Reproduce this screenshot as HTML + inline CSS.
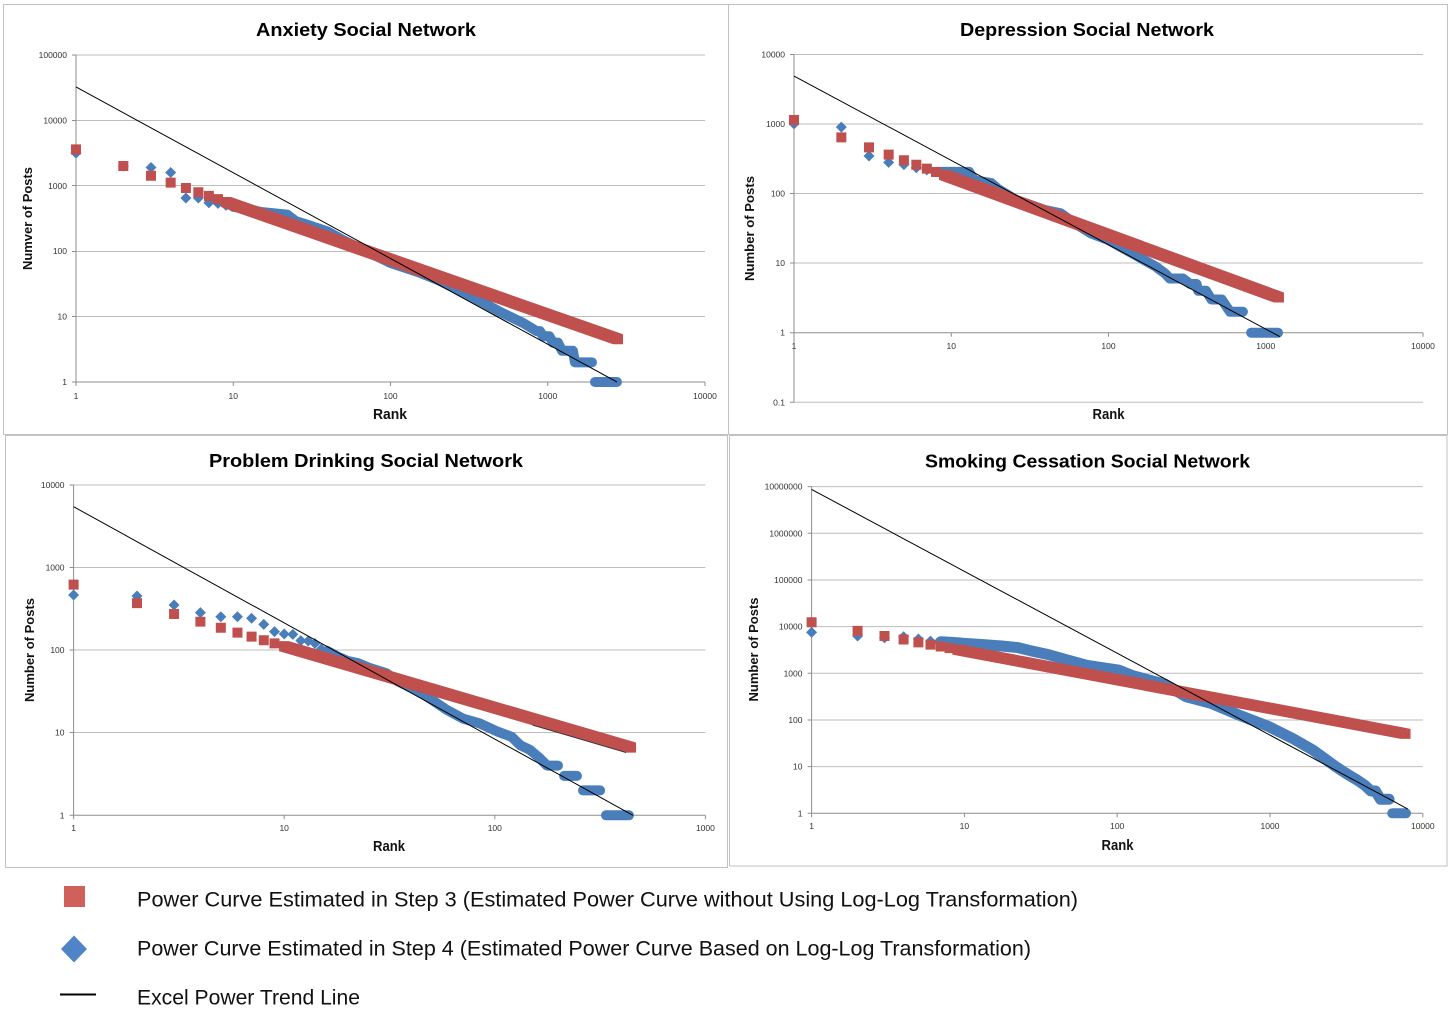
<!DOCTYPE html>
<html><head><meta charset="utf-8"><style>
html,body{margin:0;padding:0;background:#fff;}
svg{display:block;}
text{font-family:"Liberation Sans",sans-serif;}
.ttl{font-size:18px;font-weight:bold;fill:#000;}
.ax{font-size:15px;font-weight:bold;fill:#111;}
.yt{font-size:13px;font-weight:bold;fill:#111;}
.tk{font-size:8.5px;fill:#333;}
.lg{font-size:21px;fill:#111;}
.grid{stroke:#bdbdbd;stroke-width:1;fill:none;}
.axis{stroke:#8e8e8e;stroke-width:1;fill:none;}
.brd{stroke:#c2c2c2;stroke-width:1;fill:none;}
.bl{fill:none;stroke:#4a7ebb;stroke-width:10;stroke-linejoin:round;stroke-linecap:round;vector-effect:non-scaling-stroke;}
.bl4{fill:none;stroke:#4a7ebb;stroke-width:11;stroke-linejoin:round;stroke-linecap:round;vector-effect:non-scaling-stroke;}
.tr{fill:none;stroke:#000;stroke-width:1;vector-effect:non-scaling-stroke;}
.dk{fill:none;stroke:#333;stroke-width:1;vector-effect:non-scaling-stroke;}
.rd{fill:#c0504d;}
.bd{fill:#4a7ebb;}
</style></head><body>
<svg width="1451" height="1025" viewBox="0 0 1451 1025" xmlns="http://www.w3.org/2000/svg">
<rect x="0" y="0" width="1451" height="1025" fill="#fff"/>

<!-- panel borders -->
<rect class="brd" x="3.5" y="4.5" width="725" height="430"/>
<rect class="brd" x="728.5" y="4.5" width="719" height="430"/>
<rect class="brd" x="5.5" y="435.5" width="722" height="432"/>
<rect class="brd" x="729.5" y="435.5" width="717.5" height="430.5"/>

<!-- ================= PANEL 1: Anxiety ================= -->
<text class="ttl" x="366" y="36" text-anchor="middle" textLength="220" lengthAdjust="spacingAndGlyphs">Anxiety Social Network</text>
<g>
<line class="grid" x1="76" y1="55" x2="705" y2="55"/>
<line class="grid" x1="76" y1="120.5" x2="705" y2="120.5"/>
<line class="grid" x1="76" y1="185.5" x2="705" y2="185.5"/>
<line class="grid" x1="76" y1="251.5" x2="705" y2="251.5"/>
<line class="grid" x1="76" y1="316.5" x2="705" y2="316.5"/>
<line class="axis" x1="72" y1="382" x2="705" y2="382"/>
<line class="axis" x1="76" y1="55" x2="76" y2="386"/>
<path class="axis" d="M72,55h4M72,120.5h4M72,185.5h4M72,251.5h4M72,316.5h4M233.25,382v4M390.5,382v4M547.75,382v4M705,382v4"/>
</g>
<g class="tk" text-anchor="end">
<text x="67" y="58">100000</text><text x="67" y="123.4">10000</text><text x="67" y="188.8">1000</text><text x="67" y="254.2">100</text><text x="67" y="319.6">10</text><text x="67" y="385">1</text>
</g>
<g class="tk" text-anchor="middle">
<text x="76" y="399">1</text><text x="233.25" y="399">10</text><text x="390.5" y="399">100</text><text x="547.75" y="399">1000</text><text x="705" y="399">10000</text>
</g>
<text class="ax" x="390" y="419" text-anchor="middle" textLength="34" lengthAdjust="spacingAndGlyphs">Rank</text>
<text class="yt" transform="translate(32,218.5) rotate(-90)" text-anchor="middle" textLength="103" lengthAdjust="spacingAndGlyphs">Numver of Posts</text>

<g transform="translate(76,382) scale(157.25,-65.4)">
<path class="bd" d="M-.035,3.5l.035,.084l.035,-.084l-.035,-.084zM.266,3.3l.035,.084l.035,-.084l-.035,-.084zM.442,3.279l.035,.084l.035,-.084l-.035,-.084zM.567,3.204l.035,.084l.035,-.084l-.035,-.084zM.664,2.813l.035,.084l.035,-.084l-.035,-.084zM.743,2.813l.035,.084l.035,-.084l-.035,-.084zM.81,2.74l.035,.084l.035,-.084l-.035,-.084zM.868,2.732l.035,.084l.035,-.084l-.035,-.084zM.919,2.7l.035,.084l.035,-.084l-.035,-.084zM.965,2.68l.035,.084l.035,-.084l-.035,-.084z"/>
<polyline class="bl" points="1,2.68 1.041,2.66 1.079,2.645 1.114,2.63 1.176,2.6 1.301,2.57 1.342,2.56 1.398,2.46 1.477,2.4 1.602,2.3 1.699,2.17 1.845,2 2,1.82 2.176,1.68 2.301,1.56 2.477,1.36 2.699,1.07 2.845,.9 2.929,.778 2.95,.778 2.97,.699 3.01,.699 3.033,.602 3.065,.602 3.091,.477 3.16,.477 3.173,.301 3.281,.301"/>
<polyline class="bl" points="3.3,0 3.44,0"/>
<path class="rd" d="M-.0318,3.4795h.0636v.153h-.0636zM.2692,3.2265h.0636v.153h-.0636zM.4452,3.0775h.0636v.153h-.0636zM.5702,2.9725h.0636v.153h-.0636zM.6672,2.8905h.0636v.153h-.0636zM.7462,2.8245h.0636v.153h-.0636zM.8132,2.7685h.0636v.153h-.0636zM.8712,2.7195h.0636v.153h-.0636zM.9222,2.6765h.0636v.153h-.0636zM.9682,2.6375h.0636v.153h-.0636zM1.0092,2.6035h.0636v.153h-.0636zM1.0472,2.5715h.0636v.153h-.0636zM1.0822,2.5415h.0636v.153h-.0636zM1.1142,2.5145h.0636v.153h-.0636z"/>
<polygon class="rd" points=".9222,2.8295 .9858,2.8295 3.4788,.7305 3.4788,.5775 3.4152,.5775 .9222,2.6765"/>
<polyline class="tr" points="0,4.511 3.44,0"/>
</g>

<!-- ================= PANEL 2: Depression ================= -->
<text class="ttl" x="1087" y="36" text-anchor="middle" textLength="254" lengthAdjust="spacingAndGlyphs">Depression Social Network</text>
<g>
<line class="grid" x1="794" y1="54.5" x2="1423" y2="54.5"/>
<line class="grid" x1="794" y1="124" x2="1423" y2="124"/>
<line class="grid" x1="794" y1="193.5" x2="1423" y2="193.5"/>
<line class="grid" x1="794" y1="263" x2="1423" y2="263"/>
<line class="axis" x1="790" y1="332.7" x2="1423" y2="332.7"/>
<line class="grid" x1="794" y1="402.3" x2="1423" y2="402.3"/>
<line class="axis" x1="794" y1="54.5" x2="794" y2="402.3"/>
<path class="axis" d="M790,54.5h4M790,124h4M790,193.5h4M790,263h4M790,402.3h4M951.25,332.7v4M1108.5,332.7v4M1265.75,332.7v4M1423,332.7v4"/>
</g>
<g class="tk" text-anchor="end">
<text x="785" y="57.3">10000</text><text x="785" y="126.9">1000</text><text x="785" y="196.5">100</text><text x="785" y="266.1">10</text><text x="785" y="335.7">1</text><text x="785" y="405.3">0.1</text>
</g>
<g class="tk" text-anchor="middle">
<text x="794" y="349">1</text><text x="951.25" y="349">10</text><text x="1108.5" y="349">100</text><text x="1265.75" y="349">1000</text><text x="1423" y="349">10000</text>
</g>
<text class="ax" x="1108.5" y="419" text-anchor="middle" textLength="32" lengthAdjust="spacingAndGlyphs">Rank</text>
<text class="yt" transform="translate(754,228.5) rotate(-90)" text-anchor="middle" textLength="105" lengthAdjust="spacingAndGlyphs">Number of Posts</text>

<g transform="translate(794,332.7) scale(157.25,-69.6)">
<path class="bd" d="M-.035,3l.035,.079l.035,-.079l-.035,-.079zM.266,2.954l.035,.079l.035,-.079l-.035,-.079zM.442,2.539l.035,.079l.035,-.079l-.035,-.079zM.567,2.447l.035,.079l.035,-.079l-.035,-.079zM.664,2.415l.035,.079l.035,-.079l-.035,-.079zM.743,2.37l.035,.079l.035,-.079l-.035,-.079zM.81,2.34l.035,.079l.035,-.079l-.035,-.079z"/>
<polyline class="bl" points=".903,2.31 1.114,2.31 1.146,2.19 1.255,2.15 1.3,2.06 1.413,1.907 1.6,1.76 1.695,1.716 1.78,1.58 1.887,1.428 2,1.33 2.15,1.141 2.3,.95 2.36,.85 2.39,.778 2.474,.778 2.52,.699 2.56,.699 2.57,.602 2.62,.602 2.655,.477 2.72,.477 2.773,.301 2.855,.301"/>
<polyline class="bl" points="2.907,0 3.078,0"/>
<path class="rd" d="M-.0318,2.9842h.0636v.1437h-.0636zM.2692,2.7352h.0636v.1437h-.0636zM.4452,2.5902h.0636v.1437h-.0636zM.5702,2.4862h.0636v.1437h-.0636zM.6672,2.4062h.0636v.1437h-.0636zM.7462,2.3412h.0636v.1437h-.0636zM.8132,2.2852h.0636v.1437h-.0636zM.8712,2.2372h.0636v.1437h-.0636zM.9222,2.1952h.0636v.1437h-.0636zM.9682,2.1572h.0636v.1437h-.0636zM1.0092,2.1232h.0636v.1437h-.0636zM1.0472,2.0922h.0636v.1437h-.0636zM1.0822,2.0632h.0636v.1437h-.0636zM1.1142,2.0362h.0636v.1437h-.0636z"/>
<polygon class="rd" points=".9222,2.3388 .9858,2.3388 3.1158,.5768 3.1158,.4332 3.0522,.4332 .9222,2.1952"/>
<polyline class="tr" points="0,3.688 3.09,-.057"/>
</g>

<!-- ================= PANEL 3: Problem Drinking ================= -->
<text class="ttl" x="366" y="467" text-anchor="middle" textLength="314" lengthAdjust="spacingAndGlyphs">Problem Drinking Social Network</text>
<g>
<line class="grid" x1="73.6" y1="485" x2="705.4" y2="485"/>
<line class="grid" x1="73.6" y1="567.5" x2="705.4" y2="567.5"/>
<line class="grid" x1="73.6" y1="650" x2="705.4" y2="650"/>
<line class="grid" x1="73.6" y1="732.5" x2="705.4" y2="732.5"/>
<line class="axis" x1="69.6" y1="815.3" x2="705.4" y2="815.3"/>
<line class="axis" x1="73.6" y1="485" x2="73.6" y2="819.3"/>
<path class="axis" d="M69.6,485h4M69.6,567.5h4M69.6,650h4M69.6,732.5h4M284.2,815.3v4M494.8,815.3v4M705.4,815.3v4"/>
</g>
<g class="tk" text-anchor="end">
<text x="64.5" y="487.9">10000</text><text x="64.5" y="570.5">1000</text><text x="64.5" y="653.1">100</text><text x="64.5" y="735.7">10</text><text x="64.5" y="818.3">1</text>
</g>
<g class="tk" text-anchor="middle">
<text x="73.6" y="831">1</text><text x="284.2" y="831">10</text><text x="494.8" y="831">100</text><text x="705.4" y="831">1000</text>
</g>
<text class="ax" x="389" y="851" text-anchor="middle" textLength="32" lengthAdjust="spacingAndGlyphs">Rank</text>
<text class="yt" transform="translate(34,650) rotate(-90)" text-anchor="middle" textLength="104" lengthAdjust="spacingAndGlyphs">Number of Posts</text>

<g transform="translate(73.6,815.3) scale(210.6,-82.6)">
<path class="bd" d="M-.0261,2.667l.0261,.0666l.0261,-.0666l-.0261,-.0666zM.2749,2.655l.0261,.0666l.0261,-.0666l-.0261,-.0666zM.4509,2.546l.0261,.0666l.0261,-.0666l-.0261,-.0666zM.5759,2.453l.0261,.0666l.0261,-.0666l-.0261,-.0666zM.6729,2.404l.0261,.0666l.0261,-.0666l-.0261,-.0666zM.7519,2.404l.0261,.0666l.0261,-.0666l-.0261,-.0666zM.8189,2.385l.0261,.0666l.0261,-.0666l-.0261,-.0666zM.8769,2.312l.0261,.0666l.0261,-.0666l-.0261,-.0666zM.9279,2.223l.0261,.0666l.0261,-.0666l-.0261,-.0666zM.9739,2.195l.0261,.0666l.0261,-.0666l-.0261,-.0666zM1.0149,2.19l.0261,.0666l.0261,-.0666l-.0261,-.0666zM1.0529,2.114l.0261,.0666l.0261,-.0666l-.0261,-.0666zM1.0879,2.11l.0261,.0666l.0261,-.0666l-.0261,-.0666zM1.1199,2.08l.0261,.0666l.0261,-.0666l-.0261,-.0666zM1.1499,2.013l.0261,.0666l.0261,-.0666l-.0261,-.0666zM1.1779,1.99l.0261,.0666l.0261,-.0666l-.0261,-.0666z"/>
<polyline class="bl" points="1.204,1.99 1.255,1.92 1.3,1.87 1.353,1.84 1.4,1.79 1.485,1.72 1.54,1.62 1.64,1.5 1.7,1.4 1.773,1.275 1.85,1.17 1.927,1.114 2.013,1.013 2.08,.95 2.12,.85 2.167,.792 2.21,.699 2.248,.602 2.3,.602"/>
<polyline class="bl" points="2.329,.477 2.39,.477"/>
<polyline class="bl" points="2.419,.301 2.5,.301"/>
<polyline class="bl" points="2.528,0 2.637,0"/>
<path class="rd" d="M-.0237,2.7315h.0475v.121h-.0475zM.2773,2.5075h.0475v.121h-.0475zM.4533,2.3765h.0475v.121h-.0475zM.5783,2.2835h.0475v.121h-.0475zM.6753,2.2105h.0475v.121h-.0475zM.7543,2.1515h.0475v.121h-.0475zM.8213,2.1025h.0475v.121h-.0475zM.8793,2.0585h.0475v.121h-.0475zM.9303,2.0205h.0475v.121h-.0475zM.9763,1.9865h.0475v.121h-.0475zM1.0173,1.9555h.0475v.121h-.0475zM1.0553,1.9275h.0475v.121h-.0475zM1.0903,1.9015h.0475v.121h-.0475zM1.1223,1.8775h.0475v.121h-.0475zM1.1523,1.8555h.0475v.121h-.0475zM1.1803,1.8345h.0475v.121h-.0475z"/>
<polygon class="rd" points=".9763,2.1075 1.0237,2.1075 2.6707,.8805 2.6707,.7595 2.6233,.7595 .9763,1.9865"/>
<polyline class="dk" points="2.179,1.0925 2.6233,.7595"/>
<polyline class="tr" points="0,3.736 2.656,0"/>
</g>

<!-- ================= PANEL 4: Smoking Cessation ================= -->
<text class="ttl" x="1087.5" y="467.5" text-anchor="middle" textLength="325" lengthAdjust="spacingAndGlyphs">Smoking Cessation Social Network</text>
<g>
<line class="grid" x1="811.6" y1="486.6" x2="1422.8" y2="486.6"/>
<line class="grid" x1="811.6" y1="533.3" x2="1422.8" y2="533.3"/>
<line class="grid" x1="811.6" y1="580" x2="1422.8" y2="580"/>
<line class="grid" x1="811.6" y1="626.6" x2="1422.8" y2="626.6"/>
<line class="grid" x1="811.6" y1="673.3" x2="1422.8" y2="673.3"/>
<line class="grid" x1="811.6" y1="720" x2="1422.8" y2="720"/>
<line class="grid" x1="811.6" y1="766.6" x2="1422.8" y2="766.6"/>
<line class="axis" x1="807.6" y1="813.3" x2="1422.8" y2="813.3"/>
<line class="axis" x1="811.6" y1="486.6" x2="811.6" y2="817.3"/>
<path class="axis" d="M807.6,486.6h4M807.6,533.3h4M807.6,580h4M807.6,626.6h4M807.6,673.3h4M807.6,720h4M807.6,766.6h4M964.4,813.3v4M1117.2,813.3v4M1270,813.3v4M1422.8,813.3v4"/>
</g>
<g class="tk" text-anchor="end">
<text x="802.5" y="489.6">10000000</text><text x="802.5" y="536.3">1000000</text><text x="802.5" y="583">100000</text><text x="802.5" y="629.6">10000</text><text x="802.5" y="676.3">1000</text><text x="802.5" y="723">100</text><text x="802.5" y="769.6">10</text><text x="802.5" y="816.3">1</text>
</g>
<g class="tk" text-anchor="middle">
<text x="811.6" y="829">1</text><text x="964.4" y="829">10</text><text x="1117.2" y="829">100</text><text x="1270" y="829">1000</text><text x="1422.8" y="829">10000</text>
</g>
<text class="ax" x="1117.5" y="850" text-anchor="middle" textLength="32" lengthAdjust="spacingAndGlyphs">Rank</text>
<text class="yt" transform="translate(758,649.5) rotate(-90)" text-anchor="middle" textLength="104" lengthAdjust="spacingAndGlyphs">Number of Posts</text>

<g transform="translate(811.6,813.3) scale(152.8,-46.67)">
<path class="bd" d="M-.036,3.878l.036,.118l.036,-.118l-.036,-.118zM.265,3.8l.036,.118l.036,-.118l-.036,-.118zM.441,3.76l.036,.118l.036,-.118l-.036,-.118zM.566,3.784l.036,.118l.036,-.118l-.036,-.118zM.663,3.735l.036,.118l.036,-.118l-.036,-.118zM.742,3.69l.036,.118l.036,-.118l-.036,-.118z"/>
<polyline class="bl4" points=".845,3.677 .903,3.665 .954,3.655 1,3.64 1.1,3.62 1.245,3.585 1.35,3.55 1.433,3.484 1.55,3.4 1.675,3.285 1.8,3.17 2.008,3.07 2.1,2.95 2.31,2.77 2.45,2.5 2.614,2.357 2.8,2.1 2.993,1.856 3.15,1.6 3.28,1.356 3.43,1 3.5,.85 3.57,.714 3.62,.602 3.66,.477 3.69,.477 3.723,.301 3.779,.301"/>
<polyline class="bl" points="3.8,0 3.89,0"/>
<path class="rd" d="M-.0327,3.9859h.0654v.2143h-.0654zM.2683,3.8009h.0654v.2143h-.0654zM.4443,3.6929h.0654v.2143h-.0654zM.5693,3.6159h.0654v.2143h-.0654zM.6663,3.5559h.0654v.2143h-.0654zM.7453,3.5079h.0654v.2143h-.0654zM.8123,3.4659h.0654v.2143h-.0654zM.8703,3.4309h.0654v.2143h-.0654zM.9213,3.3989h.0654v.2143h-.0654zM.9673,3.3709h.0654v.2143h-.0654zM1.0083,3.3459h.0654v.2143h-.0654zM1.0463,3.3219h.0654v.2143h-.0654zM1.0813,3.3009h.0654v.2143h-.0654zM1.1133,3.2809h.0654v.2143h-.0654z"/>
<polygon class="rd" points=".9213,3.6131 .9867,3.6131 3.9197,1.8101 3.9197,1.5959 3.8543,1.5959 .9213,3.3989"/>
<polyline class="tr" points="0,6.94 3.902,.092"/>
</g>

<!-- ================= LEGEND ================= -->
<rect x="64" y="886" width="21" height="21" fill="#d0605c"/>
<polygon points="74,935.5 87,949 74,962.5 61,949" fill="#4f84c7"/>
<line x1="60" y1="994.5" x2="96" y2="994.5" stroke="#000" stroke-width="2"/>
<text class="lg" x="137" y="906.5" textLength="941" lengthAdjust="spacingAndGlyphs">Power Curve Estimated in Step 3 (Estimated Power Curve without Using Log-Log Transformation)</text>
<text class="lg" x="137" y="955.5" textLength="894" lengthAdjust="spacingAndGlyphs">Power Curve Estimated in Step 4 (Estimated Power Curve Based on Log-Log Transformation)</text>
<text class="lg" x="137" y="1004.5" textLength="223" lengthAdjust="spacingAndGlyphs">Excel Power Trend Line</text>
</svg>
</body></html>
